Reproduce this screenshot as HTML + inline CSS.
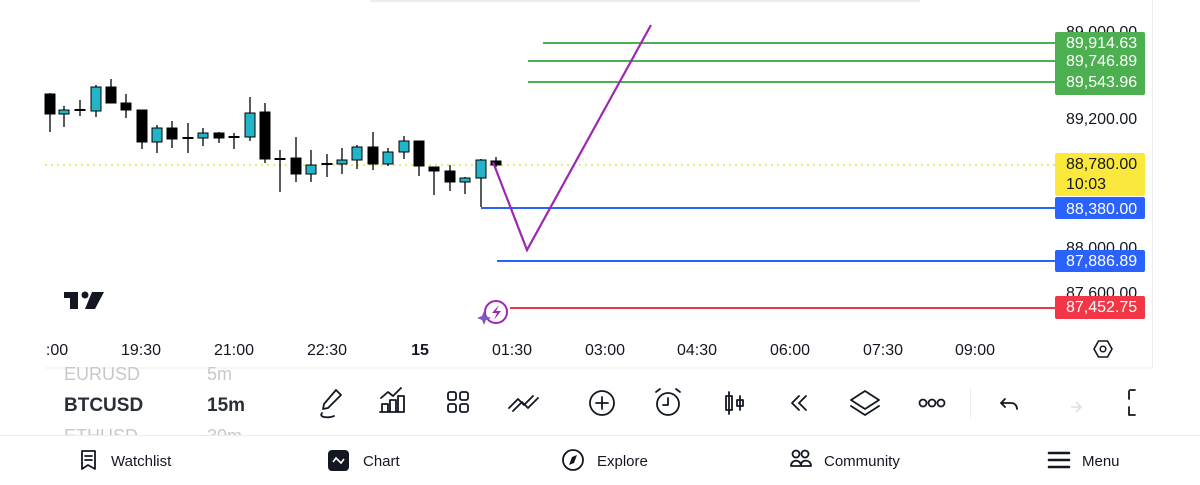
<!DOCTYPE html>
<html><head><meta charset="utf-8"><style>
html,body{margin:0;padding:0;background:#fff;width:1200px;height:485px;overflow:hidden}
svg{display:block}
text{font-family:"Liberation Sans",sans-serif}
</style></head><body>
<svg width="1200" height="485" viewBox="0 0 1200 485" xmlns="http://www.w3.org/2000/svg">
<rect x="370" y="0" width="550" height="2" fill="#ededed"/>
<line x1="1152.5" y1="0" x2="1152.5" y2="368" stroke="#eee"/>
<line x1="45" y1="165" x2="1055" y2="165" stroke="#e8e040" stroke-width="1.5" stroke-dasharray="2,4"/>
<g stroke="#000" stroke-width="1.3">
<line x1="50" y1="93" x2="50" y2="132"/><line x1="64" y1="106" x2="64" y2="127"/><line x1="80" y1="100" x2="80" y2="116"/><line x1="96" y1="85" x2="96" y2="117"/><line x1="111" y1="79" x2="111" y2="103"/><line x1="126" y1="94" x2="126" y2="118"/><line x1="142" y1="110" x2="142" y2="149"/><line x1="157" y1="125" x2="157" y2="153"/><line x1="172" y1="121" x2="172" y2="148"/><line x1="188" y1="123" x2="188" y2="153"/><line x1="203" y1="128" x2="203" y2="146"/><line x1="219" y1="132" x2="219" y2="143"/><line x1="234" y1="133" x2="234" y2="149"/><line x1="250" y1="97" x2="250" y2="141"/><line x1="265" y1="103" x2="265" y2="163"/><line x1="280" y1="150" x2="280" y2="192"/><line x1="296" y1="137" x2="296" y2="182"/><line x1="311" y1="150" x2="311" y2="182"/><line x1="327" y1="154" x2="327" y2="177"/><line x1="342" y1="148" x2="342" y2="174"/><line x1="357" y1="145" x2="357" y2="169"/><line x1="373" y1="132" x2="373" y2="170"/><line x1="388" y1="148" x2="388" y2="166"/><line x1="404" y1="136" x2="404" y2="159"/><line x1="419" y1="141" x2="419" y2="176"/><line x1="434" y1="167" x2="434" y2="195"/><line x1="450" y1="165" x2="450" y2="191"/><line x1="465" y1="177" x2="465" y2="194"/><line x1="481" y1="159" x2="481" y2="207"/><line x1="496" y1="157" x2="496" y2="167"/>
</g>
<g stroke="#000" stroke-width="1">
<rect x="45" y="94" width="10" height="20" fill="#000"/>
<rect x="59" y="110" width="10" height="4" fill="#22b5c9"/>
<rect x="75" y="109.5" width="10" height="1" fill="#000"/>
<rect x="91" y="87" width="10" height="24" fill="#22b5c9"/>
<rect x="106" y="87" width="10" height="16" fill="#000"/>
<rect x="121" y="103" width="10" height="7" fill="#000"/>
<rect x="137" y="110" width="10" height="32" fill="#000"/>
<rect x="152" y="128" width="10" height="14" fill="#22b5c9"/>
<rect x="167" y="128" width="10" height="11" fill="#000"/>
<rect x="183" y="137.5" width="10" height="1" fill="#000"/>
<rect x="198" y="133" width="10" height="5" fill="#22b5c9"/>
<rect x="214" y="133" width="10" height="5" fill="#000"/>
<rect x="229" y="136.5" width="10" height="1" fill="#000"/>
<rect x="245" y="113" width="10" height="24" fill="#22b5c9"/>
<rect x="260" y="112" width="10" height="47" fill="#000"/>
<rect x="275" y="158.5" width="10" height="1" fill="#000"/>
<rect x="291" y="158" width="10" height="16" fill="#000"/>
<rect x="306" y="165" width="10" height="9" fill="#22b5c9"/>
<rect x="322" y="163.5" width="10" height="1" fill="#000"/>
<rect x="337" y="160" width="10" height="4" fill="#22b5c9"/>
<rect x="352" y="147" width="10" height="13" fill="#22b5c9"/>
<rect x="368" y="147" width="10" height="17" fill="#000"/>
<rect x="383" y="152" width="10" height="12" fill="#22b5c9"/>
<rect x="399" y="141" width="10" height="11" fill="#22b5c9"/>
<rect x="414" y="141" width="10" height="25" fill="#000"/>
<rect x="429" y="167" width="10" height="4" fill="#000"/>
<rect x="445" y="171" width="10" height="11" fill="#000"/>
<rect x="460" y="178" width="10" height="4" fill="#22b5c9"/>
<rect x="476" y="160" width="10" height="18" fill="#22b5c9"/>
<rect x="491" y="161" width="10" height="4" fill="#000"/>
</g>
<line x1="543" y1="43" x2="1055" y2="43" stroke="#4caf50" stroke-width="2"/>
<line x1="528" y1="61" x2="1055" y2="61" stroke="#4caf50" stroke-width="2"/>
<line x1="528" y1="82" x2="1055" y2="82" stroke="#4caf50" stroke-width="2"/>
<line x1="481" y1="208" x2="1055" y2="208" stroke="#2962ff" stroke-width="2"/>
<line x1="497" y1="261" x2="1055" y2="261" stroke="#2962ff" stroke-width="2"/>
<line x1="510" y1="308" x2="1055" y2="308" stroke="#f23645" stroke-width="2"/>
<polyline points="493,162 527,250 651,25" fill="none" stroke="#9c27b0" stroke-width="2.2"/>
<circle cx="496" cy="312" r="11" fill="#fff" stroke="#9c27b0" stroke-width="2"/>
<path d="M499 305 L492 313 L497 313 L494 320 L501 311 L496 311 Z" fill="#9c27b0"/>
<path d="M484 311 L486 316 L491 318 L486 320 L484 325 L482 320 L477 318 L482 316 Z" fill="#7e57c2"/>
<g fill="#131722" font-size="16">
<text x="1066" y="37">89,000.00</text>
<text x="1066" y="124">89,200.00</text>
<text x="1066" y="253">88,000.00</text>
<text x="1066" y="298">87,600.00</text>
</g>
<rect x="1055" y="32" width="90" height="63" rx="2" fill="#4caf50"/>
<g fill="#fff" font-size="16">
<text x="1066" y="48">89,914.63</text>
<text x="1066" y="66">89,746.89</text>
<text x="1066" y="87">89,543.96</text>
</g>
<rect x="1055" y="153" width="90" height="43" rx="2" fill="#fae83c"/>
<text x="1066" y="169" font-size="16" fill="#131722">88,780.00</text>
<text x="1066" y="189" font-size="16" fill="#131722">10:03</text>
<rect x="1055" y="197" width="90" height="22" rx="2" fill="#2962ff"/>
<text x="1066" y="214" font-size="16" fill="#fff">88,380.00</text>
<rect x="1055" y="250" width="90" height="22" rx="2" fill="#2962ff"/>
<text x="1066" y="266" font-size="16" fill="#fff">87,886.89</text>
<rect x="1055" y="296" width="90" height="23" rx="2" fill="#f23645"/>
<text x="1066" y="312" font-size="16" fill="#fff">87,452.75</text>
<g fill="#131722">
<rect x="64" y="292" width="14" height="6"/><rect x="70" y="292" width="8" height="17"/>
<circle cx="85" cy="295" r="3.5"/><path d="M92 292 L104 292 L95 309 L85 309 Z"/>
</g>
<g font-size="16" fill="#131722" text-anchor="middle">
<text x="57" y="355">:00</text><text x="141" y="355">19:30</text><text x="234" y="355">21:00</text><text x="327" y="355">22:30</text><text x="420" y="355" font-weight="bold">15</text><text x="512" y="355">01:30</text><text x="605" y="355">03:00</text><text x="697" y="355">04:30</text><text x="790" y="355">06:00</text><text x="883" y="355">07:30</text><text x="975" y="355">09:00</text>
</g>
<polygon points="1094,349 1098.5,341 1107.5,341 1112,349 1107.5,357 1098.5,357" fill="none" stroke="#131722" stroke-width="1.6"/>
<circle cx="1103" cy="349" r="2.8" fill="none" stroke="#131722" stroke-width="1.5"/>
<line x1="45" y1="368" x2="1152" y2="368" stroke="#eee"/>
<text x="64" y="380" font-size="18" fill="#c8c8c8">EURUSD</text>
<text x="207" y="380" font-size="18" fill="#c8c8c8">5m</text>
<text x="64" y="411" font-size="19" font-weight="bold" fill="#2a2e39">BTCUSD</text>
<text x="207" y="411" font-size="19" font-weight="bold" fill="#2a2e39">15m</text>
<text x="64" y="442" font-size="18" fill="#c8c8c8">ETHUSD</text>
<text x="207" y="442" font-size="18" fill="#c8c8c8">30m</text>
<rect x="0" y="435" width="1200" height="50" fill="#fff"/>
<line x1="0" y1="435.5" x2="1200" y2="435.5" stroke="#ececec"/>
<g fill="none" stroke="#131722" stroke-width="1.8" stroke-linecap="round" stroke-linejoin="round">
<path d="M336 390 L341 395 L328 408 L323 409 L324 404 Z M322 413 C318 418 330 418 334 416"/>
<path d="M380 412 L404 412 M382 412 V404 H388 V412 M390 412 V400 H396 V412 M398 412 V396 H404 V412 M381 398 L388 392 L393 396 L401 388"/>
<rect x="448" y="392" width="8" height="8" rx="2"/><rect x="460" y="392" width="8" height="8" rx="2"/><rect x="448" y="404" width="8" height="8" rx="2"/><rect x="460" y="404" width="8" height="8" rx="2"/>
<path d="M509 408 L518 399 L524 405 L533 396 M513 411 L522 402 L528 408 L538 398"/>
<circle cx="602" cy="403" r="12"/><path d="M596 403 H608 M602 397 V409"/>
<circle cx="668" cy="404" r="11"/><path d="M668 398 V405 H663 M656 392 L660 389 M680 392 L676 389"/>
<path d="M729 392 V414 M726 396 H732 V410 H726 Z M740 396 V410 M737 400 H743 V406 H737 Z"/>
<path d="M799 396 L792 403 L799 410 M806 396 L799 403 L806 410"/>
<path d="M865 391 L879 400 L865 409 L851 400 Z M851 406 L865 415 L879 406"/>
<circle cx="923" cy="403" r="3.5"/><circle cx="932" cy="403" r="3.5"/><circle cx="941" cy="403" r="3.5"/>
<path d="M1005 399 L1001 403 L1005 407 M1001 403 H1011 C1015 403 1017 406 1017 409"/>
<path d="M1130 390 H1135 M1129 391 V399 M1129 407 V415 H1135" />
<path d="M82 451 H95 V469 L88 465 L82 469 Z M85 456 H92 M85 460 H92"/>
<circle cx="573" cy="460" r="10"/>
<circle cx="796" cy="454" r="3.5"/><circle cx="805" cy="454" r="3.5"/><path d="M791 466 C791 459 801 459 801 466 Z M801 465 C801 459 811 459 811 466 H801"/>
<path d="M1049 453 H1069 M1049 460 H1069 M1049 467 H1069" stroke-width="2.6"/>
</g>
<path d="M1081 407 L1071 407 M1076 402 L1081 407 L1076 412" fill="none" stroke="#ddd" stroke-width="1.6"/>
<line x1="970.5" y1="388" x2="970.5" y2="418" stroke="#eee"/>
<path d="M577 455 L574 463 L569 465 L572 457 Z" fill="#131722"/>
<rect x="328" y="450" width="21" height="21" rx="4" fill="#131722"/>
<path d="M333 462 L336 458 L341 463 L344 459" fill="none" stroke="#fff" stroke-width="1.6"/>
<g font-size="15" fill="#131722">
<text x="111" y="466">Watchlist</text>
<text x="363" y="466">Chart</text>
<text x="597" y="466">Explore</text>
<text x="824" y="466">Community</text>
<text x="1082" y="466">Menu</text>
</g>
</svg>
</body></html>
